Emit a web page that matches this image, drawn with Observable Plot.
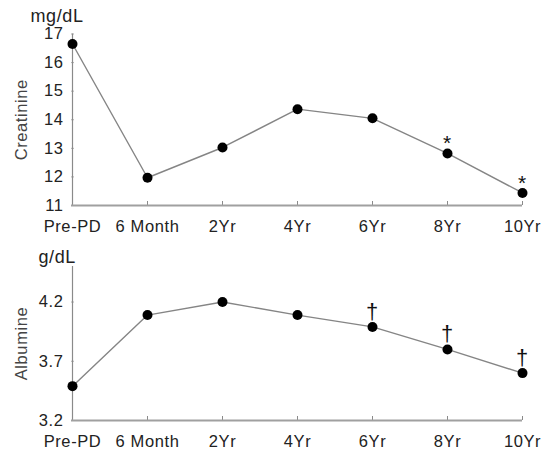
<!DOCTYPE html>
<html>
<head>
<meta charset="utf-8">
<script src="https://cdn.jsdelivr.net/npm/d3@7"></script>
<script src="https://cdn.jsdelivr.net/npm/@observablehq/plot@0.6"></script>
<style>
  html, body { margin: 0; padding: 0; background: #fff; }
  #chart { width: 555px; }
  #chart svg { display: block; }
  #chart svg text { letter-spacing: 0.6px; }
</style>
</head>
<body>
<div id="chart"></div>
<script>
const categories = ["Pre-PD", "6 Month", "2Yr", "4Yr", "6Yr", "8Yr", "10Yr"];
const creatinine = [16.65, 11.97, 13.03, 14.37, 14.05, 12.82, 11.44];
const albumine = [3.49, 4.09, 4.2, 4.09, 3.99, 3.8, 3.6];
const creatinineFlags = ["", "", "", "", "", "*", "*"];
const albumineFlags = ["", "", "", "", "†", "†", "†"];
const creatinineTicks = [11, 12, 13, 14, 15, 16, 17];
const albumineTicks = [3.2, 3.7, 4.2];

const FONT = "'Liberation Sans', Arial, sans-serif";
const W = 555;
const ML = 71, MR = 33;

function panel({values, flags, ticks, fmt, domain, unit, name, height, marginTop, marginBottom, flag}) {
  const data = categories.map((c, i) => ({cat: c, v: values[i], flag: flags[i]}));
  const frameH = height - marginTop - marginBottom;
  const frameW = W - ML - MR;
  return Plot.plot({
    width: W,
    height,
    marginLeft: ML,
    marginRight: MR,
    marginTop,
    marginBottom,
    style: {fontFamily: FONT, fontSize: "16px", color: "#222", background: "#fff"},
    x: {type: "point", domain: categories, padding: 0},
    y: {domain, ticks},
    marks: [
      Plot.tickX(categories, {x: d => d, stroke: "#8a8a8a", strokeWidth: 1, insetTop: frameH - 4}),
      Plot.tickY(ticks, {y: d => d, stroke: "#b0b0b0", strokeWidth: 1, insetRight: frameW - 3}),
      Plot.ruleX([categories[0]], {stroke: "#8a8a8a", strokeWidth: 1.2}),
      Plot.ruleY([domain[0]], {stroke: "#a0a0a0", strokeWidth: 2}),
      Plot.axisX({tickSize: 0, tickPadding: 14.5, fontSize: 16.5, fill: "#222", label: null}),
      Plot.axisY({ticks, tickFormat: fmt, tickSize: 0, tickPadding: 8, fontSize: 16.5, fill: "#222", label: null}),
      Plot.line(data, {x: "cat", y: "v", stroke: "#858585", strokeWidth: 1.4}),
      Plot.dot(data, {x: "cat", y: "v", r: 5, fill: "#000", stroke: "none"}),
      Plot.text(data.filter(d => d.flag), {x: "cat", y: "v", text: "flag", dy: flag.dy, fontSize: flag.size, fill: "#111"}),
      Plot.text([unit.text], {frameAnchor: "top-left", dx: unit.dx, dy: unit.dy, textAnchor: "start", lineAnchor: "middle", fontSize: 18, fill: "#222"}),
      Plot.text([name], {frameAnchor: "left", dx: -50, rotate: -90, textAnchor: "middle", lineAnchor: "middle", fontSize: 16.5, fill: "#444"})
    ]
  });
}

const chart = document.getElementById("chart");
chart.append(panel({
  values: creatinine, flags: creatinineFlags, ticks: creatinineTicks, fmt: d3.format("d"),
  domain: [11, 17], name: "Creatinine", unit: {text: "mg/dL", dx: -41, dy: -18},
  height: 235, marginTop: 33.5, marginBottom: 30, flag: {dy: -10, size: 21}
}));
chart.append(panel({
  values: albumine, flags: albumineFlags, ticks: albumineTicks, fmt: d3.format(".1f"),
  domain: [3.2, 4.5], name: "Albumine", unit: {text: "g/dL", dx: -33, dy: -9},
  height: 216, marginTop: 31, marginBottom: 31, flag: {dy: -15, size: 22}
}));
</script>
</body>
</html>
